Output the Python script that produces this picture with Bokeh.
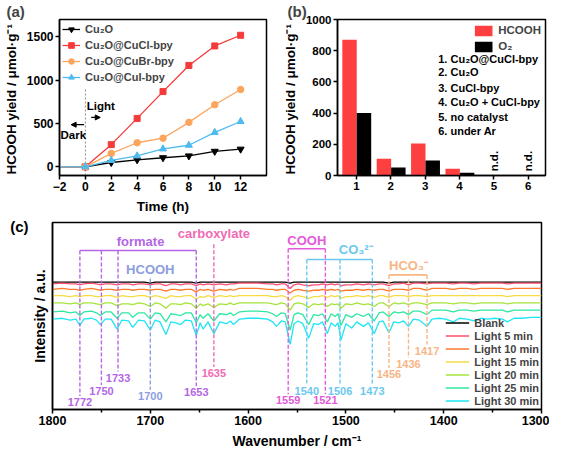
import math
from bokeh.plotting import figure
from bokeh.models import (Range1d, Label, Arrow, NormalHead, FixedTicker, ColumnDataSource,
                          LinearAxis)
from bokeh.layouts import column, row
from bokeh.transform import dodge
from bokeh.embed import file_html
from bokeh.resources import INLINE

FONT = "Liberation Sans"

# ---------------- panel (a) data ----------------
time_h = [-2, 0, 2, 4, 6, 8, 10, 12]
cu2o = [0, 0, 50, 81, 105, 126, 179, 204]
cu2o_cucl = [0, 0, 256, 559, 868, 1170, 1395, 1518]
cu2o_cubr = [0, 0, 155, 278, 330, 513, 717, 892]
cu2o_cui = [0, 0, 74, 126, 207, 249, 397, 523]
series_names_a = ["Cu₂O", "Cu₂O@CuCl-bpy", "Cu₂O@CuBr-bpy", "Cu₂O@CuI-bpy"]

# ---------------- panel (b) data ----------------
catalyst_no = [1, 2, 3, 4, 5, 6]
hcooh_yield = [870, 108, 205, 43, 0, 0]
o2_yield = [401, 51, 96, 18, 0, 0]
catalyst_list = ["1. Cu₂O@CuCl-bpy", "2. Cu₂O", "3. CuCl-bpy", "4. Cu₂O + CuCl-bpy",
                 "5. no catalyst", "6. under Ar"]
nd_cats = [5, 6]

# ---------------- panel (c) data ----------------
wavenumber = [1800, 1790, 1782, 1776, 1772, 1768, 1760, 1755, 1751, 1746,
              1740, 1734, 1729, 1722, 1718, 1712, 1706, 1700, 1695, 1690,
              1684, 1679, 1674, 1669, 1664, 1658, 1653, 1649, 1646, 1641,
              1635, 1629, 1622, 1618, 1615, 1609, 1600, 1590, 1580, 1575,
              1571, 1566, 1562, 1557, 1553, 1549, 1544, 1538, 1533, 1528,
              1524, 1519, 1515, 1511, 1508, 1505, 1500, 1494, 1489, 1482,
              1477, 1471, 1466, 1462, 1456, 1451, 1446, 1441, 1436, 1431,
              1425, 1417, 1412, 1405, 1398, 1390, 1384, 1376, 1369, 1362,
              1355, 1348, 1340, 1335, 1328, 1320, 1310, 1300]
blank = [141, 141, 141, 141, 141, 141, 141, 141, 141, 141,
         141, 141, 141, 141, 141, 141, 141, 140, 141, 141,
         141, 141, 141, 141, 141, 141, 140, 141, 141, 141,
         141, 141, 141, 141, 141, 141, 141, 141, 141, 141,
         141, 141, 141, 140, 141, 141, 141, 141, 141, 141,
         141, 141, 141, 141, 141, 141, 141, 141, 141, 141,
         141, 141, 141, 141, 140, 141, 141, 141, 141, 141,
         141, 141, 141, 141, 141, 141, 141, 141, 141, 141,
         141, 141, 141, 141, 141, 141, 141, 141]
light5 = [139, 140, 139, 139, 138, 139, 140, 139, 138, 139,
          139, 138, 139, 139, 138, 139, 139, 138, 139, 139,
          137, 139, 139, 138, 139, 139, 137, 139, 138, 139,
          138, 139, 138, 139, 139, 140, 140, 140, 139, 139,
          138, 139, 139, 134, 138, 139, 138, 137, 138, 138,
          139, 138, 139, 138, 139, 137, 138, 138, 139, 138,
          139, 138, 139, 139, 137, 139, 139, 140, 138, 140,
          140, 139, 140, 140, 140, 139, 140, 140, 139, 140,
          140, 140, 140, 139, 140, 140, 140, 140]
light10 = [133, 134, 133, 133, 132, 133, 134, 133, 132, 133,
           133, 132, 133, 133, 132, 133, 133, 132, 133, 133,
           131, 133, 133, 132, 133, 133, 130, 133, 132, 133,
           131, 133, 132, 133, 132, 134, 134, 134, 133, 133,
           132, 133, 133, 129, 132, 133, 132, 131, 132, 132,
           133, 132, 133, 132, 133, 131, 132, 132, 133, 132,
           133, 132, 133, 133, 131, 133, 133, 133, 132, 134,
           134, 132, 134, 134, 134, 133, 134, 134, 133, 134,
           134, 134, 134, 133, 134, 134, 134, 134]
light15 = [126, 126, 125, 126, 125, 126, 126, 125, 125, 126,
           126, 124, 126, 125, 125, 126, 126, 124, 126, 125,
           123, 126, 125, 125, 126, 126, 122, 125, 124, 126,
           124, 126, 125, 126, 125, 126, 126, 126, 126, 125,
           125, 126, 125, 121, 125, 126, 125, 123, 125, 125,
           126, 124, 126, 125, 126, 123, 125, 125, 126, 125,
           126, 124, 126, 126, 124, 126, 126, 126, 125, 126,
           126, 125, 126, 126, 126, 126, 126, 126, 126, 126,
           126, 126, 126, 125, 126, 126, 126, 126]
light20 = [118, 118, 117, 118, 116, 118, 118, 117, 116, 118,
           118, 115, 117, 117, 116, 118, 117, 114, 118, 117,
           112, 117, 117, 116, 118, 117, 112, 117, 115, 117,
           113, 117, 116, 118, 116, 118, 118, 118, 118, 117,
           116, 118, 117, 110, 117, 118, 117, 113, 117, 116,
           117, 114, 117, 116, 117, 112, 117, 116, 118, 116,
           117, 114, 118, 118, 114, 118, 117, 118, 116, 118,
           118, 116, 118, 118, 118, 117, 118, 118, 117, 118,
           118, 118, 118, 117, 118, 118, 118, 118]
light25 = [108, 109, 107, 108, 104, 108, 109, 107, 104, 108,
           108, 101, 107, 107, 102, 107, 107, 100, 107, 106,
           97, 106, 105, 104, 107, 107, 96, 105, 101, 106,
           98, 106, 105, 107, 104, 108, 109, 109, 108, 106,
           103, 107, 106, 88, 105, 107, 105, 94, 105, 104,
           106, 97, 106, 103, 106, 93, 105, 102, 106, 103,
           106, 98, 107, 108, 103, 108, 107, 108, 105, 109,
           109, 105, 110, 110, 110, 108, 110, 110, 109, 110,
           110, 110, 110, 108, 110, 110, 110, 110]
light30 = [100, 101, 99, 100, 93, 100, 101, 99, 94, 100,
           100, 89, 99, 98, 91, 99, 98, 88, 99, 97,
           83, 97, 96, 94, 99, 98, 82, 96, 89, 97,
           84, 97, 95, 98, 94, 100, 101, 101, 100, 97,
           92, 98, 97, 72, 95, 98, 95, 79, 95, 94,
           97, 84, 96, 92, 96, 77, 95, 90, 97, 92,
           96, 84, 97, 98, 85, 97, 96, 98, 92, 100,
           99, 92, 100, 101, 100, 97, 101, 100, 98, 101,
           100, 101, 100, 97, 101, 101, 102, 102]
trace_names = ["Blank", "Light 5 min", "Light 10 min", "Light 15 min",
               "Light 20 min", "Light 25 min", "Light 30 min"]

formate_peaks = [1772, 1750, 1733, 1653]
hcooh_peaks = [1700]
carboxylate_peaks = [1635]
cooh_peaks = [1559, 1521]
co3_peaks = [1540, 1506, 1473]
hco3_peaks = [1456, 1436, 1417]


def style(p, tick_size, label_size):
    p.outline_line_color = "black"
    p.outline_line_width = 1.5
    p.outline_line_alpha = 1.0
    p.xgrid.visible = False
    p.ygrid.visible = False
    for ax in p.axis:
        ax.axis_line_width = 1.5
        ax.axis_line_color = "black"
        ax.major_tick_line_width = 1.5
        ax.major_tick_line_color = "black"
        ax.major_tick_in = 0
        ax.major_tick_out = 4
        ax.minor_tick_in = 0
        ax.minor_tick_out = 0
        ax.minor_tick_line_color = None
        ax.major_label_text_font = FONT
        ax.major_label_text_font_style = "bold"
        ax.major_label_text_font_size = tick_size
        ax.major_label_text_color = "black"
        ax.axis_label_text_font = FONT
        ax.axis_label_text_font_style = "bold"
        ax.axis_label_text_font_size = label_size
        ax.axis_label_text_color = "black"
        ax.major_label_standoff = 2
        ax.axis_label_standoff = 5


def panel_title(p, text, offset):
    p.title.text = text
    p.title.text_font = FONT
    p.title.text_font_size = "15px"
    p.title.text_font_style = "bold"
    p.title.align = "left"
    p.title.offset = offset
    p.title.standoff = 0


def label(p, x, y, text, color="black", size="12px", align="left", baseline="middle",
          angle=0.0):
    p.add_layout(Label(x=x, y=y, text=text, text_color=color, text_font=FONT,
                       text_font_size=size, text_font_style="bold", text_align=align,
                       text_baseline=baseline, angle=angle))


# ================= panel (a) =================
pa = figure(width=279, height=216, x_range=Range1d(-2, 14), y_range=Range1d(-100, 1700),
            output_backend="svg", toolbar_location=None,
            min_border_left=53, min_border_right=13, min_border_top=12, min_border_bottom=32)
style(pa, "12px", "13.5px")
panel_title(pa, "(a)", -53)
pa.xaxis.ticker = FixedTicker(ticks=[-2, 0, 2, 4, 6, 8, 10, 12])
pa.yaxis.ticker = FixedTicker(ticks=[0, 500, 1000, 1500])
pa.xaxis.axis_label = "Time (h)"
pa.yaxis.axis_label = "HCOOH  yield / μmol·g⁻¹"

light_on_t = 0
pa.segment(x0=[light_on_t], y0=[-100], x1=[light_on_t], y1=[910], line_color="#8a8a8a",
           line_dash="2 2", line_width=1)

colors_a = ["black", "#f53a3a", "#fca55d", "#4dbbef"]
markers_a = ["inverted_triangle", "square", "circle", "triangle"]
sizes_a = [7, 6, 6.5, 7]
for name, vals, col, mk, sz in zip(series_names_a, [cu2o, cu2o_cucl, cu2o_cubr, cu2o_cui],
                                   colors_a, markers_a, sizes_a):
    pa.line(time_h, vals, line_color=col, line_width=1.3, legend_label=name)
    pa.scatter(time_h[1:], vals[1:], marker=mk, size=sz, fill_color=col, line_color=col,
               legend_label=name)

pa.legend.location = "top_left"
pa.legend.margin = 3
pa.legend.padding = 1
pa.legend.spacing = 2
pa.legend.glyph_width = 18
pa.legend.glyph_height = 14
pa.legend.label_height = 14
pa.legend.label_standoff = 5
pa.legend.label_text_font = FONT
pa.legend.label_text_font_style = "bold"
pa.legend.label_text_font_size = "11px"
pa.legend.border_line_color = None
pa.legend.background_fill_alpha = 0

label(pa, 0.1, 697, "Light", size="11.5px")
label(pa, -1.92, 370, "Dark", size="11.5px")
pa.add_layout(Arrow(x_start=0.45, y_start=570, x_end=1.15, y_end=570, line_width=1.2,
                    end=NormalHead(size=5, fill_color="black", line_color="black")))
pa.add_layout(Arrow(x_start=-0.1, y_start=486, x_end=-1.1, y_end=486, line_width=1.2,
                    end=NormalHead(size=5, fill_color="black", line_color="black")))

# ================= panel (b) =================
pb = figure(width=270, height=216, x_range=Range1d(0.45, 6.5), y_range=Range1d(0, 1000),
            output_backend="svg", toolbar_location=None,
            min_border_left=50, min_border_right=4, min_border_top=12, min_border_bottom=32)
style(pb, "11.5px", "13.5px")
panel_title(pb, "(b)", -50)
pb.xaxis.ticker = FixedTicker(ticks=catalyst_no)
pb.yaxis.ticker = FixedTicker(ticks=[0, 200, 400, 600, 800, 1000])
pb.yaxis.axis_label = "HCOOH  yield / μmol·g⁻¹"

src_b = ColumnDataSource(dict(cat=catalyst_no, hcooh=hcooh_yield, o2=o2_yield))
pb.vbar(x=dodge("cat", -0.2), top="hcooh", width=0.42, source=src_b, fill_color="#fe3f3f",
        line_color=None, legend_label="HCOOH")
pb.vbar(x=dodge("cat", 0.22), top="o2", width=0.42, source=src_b, fill_color="black",
        line_color=None, legend_label="O₂")
pb.legend.location = "top_right"
pb.legend.margin = 4
pb.legend.padding = 0
pb.legend.spacing = 2
pb.legend.glyph_width = 22
pb.legend.glyph_height = 13
pb.legend.label_height = 14
pb.legend.label_standoff = 4
pb.legend.label_text_font = FONT
pb.legend.label_text_font_style = "bold"
pb.legend.label_text_font_size = "11.5px"
pb.legend.border_line_color = None
pb.legend.background_fill_alpha = 0

list_y = [749, 661, 561, 473, 374, 286]
for txt, yy in zip(catalyst_list, list_y):
    label(pb, 3.38, yy, txt, size="11px")
for c in nd_cats:
    label(pb, c, 92, "n.d.", size="11.5px", align="center", angle=math.pi / 2)

# ================= panel (c) =================
pc = figure(width=549, height=235, x_range=Range1d(1800, 1300), y_range=Range1d(0, 207),
            output_backend="svg", toolbar_location=None,
            min_border_left=52, min_border_right=8, min_border_top=6, min_border_bottom=30)
pc.xaxis.ticker = FixedTicker(ticks=[1300, 1400, 1500, 1600, 1700, 1800],
                              minor_ticks=[1350, 1450, 1550, 1650, 1750])
pc.yaxis.ticker = FixedTicker(ticks=[])
pc.xaxis.axis_label = "Wavenumber / cm⁻¹"
pc.yaxis.axis_label = "Intensity / a.u."
# outer left axis carrying only the panel letter
tag_axis = LinearAxis(ticker=FixedTicker(ticks=[203]), major_label_overrides={203: "(c)"})
pc.add_layout(tag_axis, "left")
style(pc, "12.5px", "14px")
pc.xaxis.minor_tick_out = 3
pc.xaxis.minor_tick_line_color = "black"
pc.xaxis.minor_tick_line_width = 1.5
tag_axis.axis_line_color = None
tag_axis.major_tick_line_color = None
tag_axis.major_tick_out = 0
tag_axis.major_label_standoff = 0
tag_axis.major_label_text_font_size = "15px"

trace_colors = ["black", "#ff4f6e", "#ff7a2a", "#f5dc45", "#a6e33c", "#2ee8a0", "#1ee6f5"]
for name, vals, col in zip(trace_names, [blank, light5, light10, light15, light20, light25, light30],
                           trace_colors):
    pc.line(wavenumber, vals, line_color=col, line_width=1.3, legend_label=name)

pc.legend.location = "bottom_right"
pc.legend.margin = 2
pc.legend.padding = 2
pc.legend.spacing = 0
pc.legend.glyph_width = 24
pc.legend.glyph_height = 13
pc.legend.label_height = 13
pc.legend.label_standoff = 5
pc.legend.label_text_font = FONT
pc.legend.label_text_font_style = "bold"
pc.legend.label_text_font_size = "11px"
pc.legend.border_line_color = None
pc.legend.background_fill_alpha = 0

# peak annotation groups: (peaks, colour, line tops, number-label y, name, name x, name y, bracket y)
groups = [
    (formate_peaks, "#b366e6", [176, 176, 176, 176], [8, 20, 35, 19], "formate", 1710, 186, 176),
    (hcooh_peaks, "#8c9ee0", [145], [15], "HCOOH", 1700, 155, None),
    (carboxylate_peaks, "#f06ab4", [183], [40], "carboxylate", 1635, 195, None),
    (cooh_peaks, "#e35ad8", [178, 178], [10, 10], "COOH", 1540, 187, 178),
    (co3_peaks, "#6cc8f0", [166, 166, 166], [21, 21, 21], "CO₃²⁻", 1490, 177, 166),
    (hco3_peaks, "#f8b585", [149, 144, 149], [39, 50, 65], "HCO₃⁻", 1436, 159, 149),
]
for peaks, col, tops, ly, name, nx, ny, by in groups:
    pc.segment(x0=peaks, y0=tops, x1=peaks, y1=[v + 7 for v in ly], line_color=col,
               line_dash="4 2", line_width=1.4)
    if by is not None:
        pc.segment(x0=[max(peaks)], y0=[by], x1=[min(peaks)], y1=[by], line_color=col,
                   line_width=1.6)
    for pk, yy in zip(peaks, ly):
        label(pc, pk, yy, str(pk), color=col, size="11px", align="center")
    label(pc, nx, ny, name, color=col, size="13px", align="center")

layout = column(row(pa, pb), pc)
open("out.html", "w").write(file_html(layout, INLINE))
